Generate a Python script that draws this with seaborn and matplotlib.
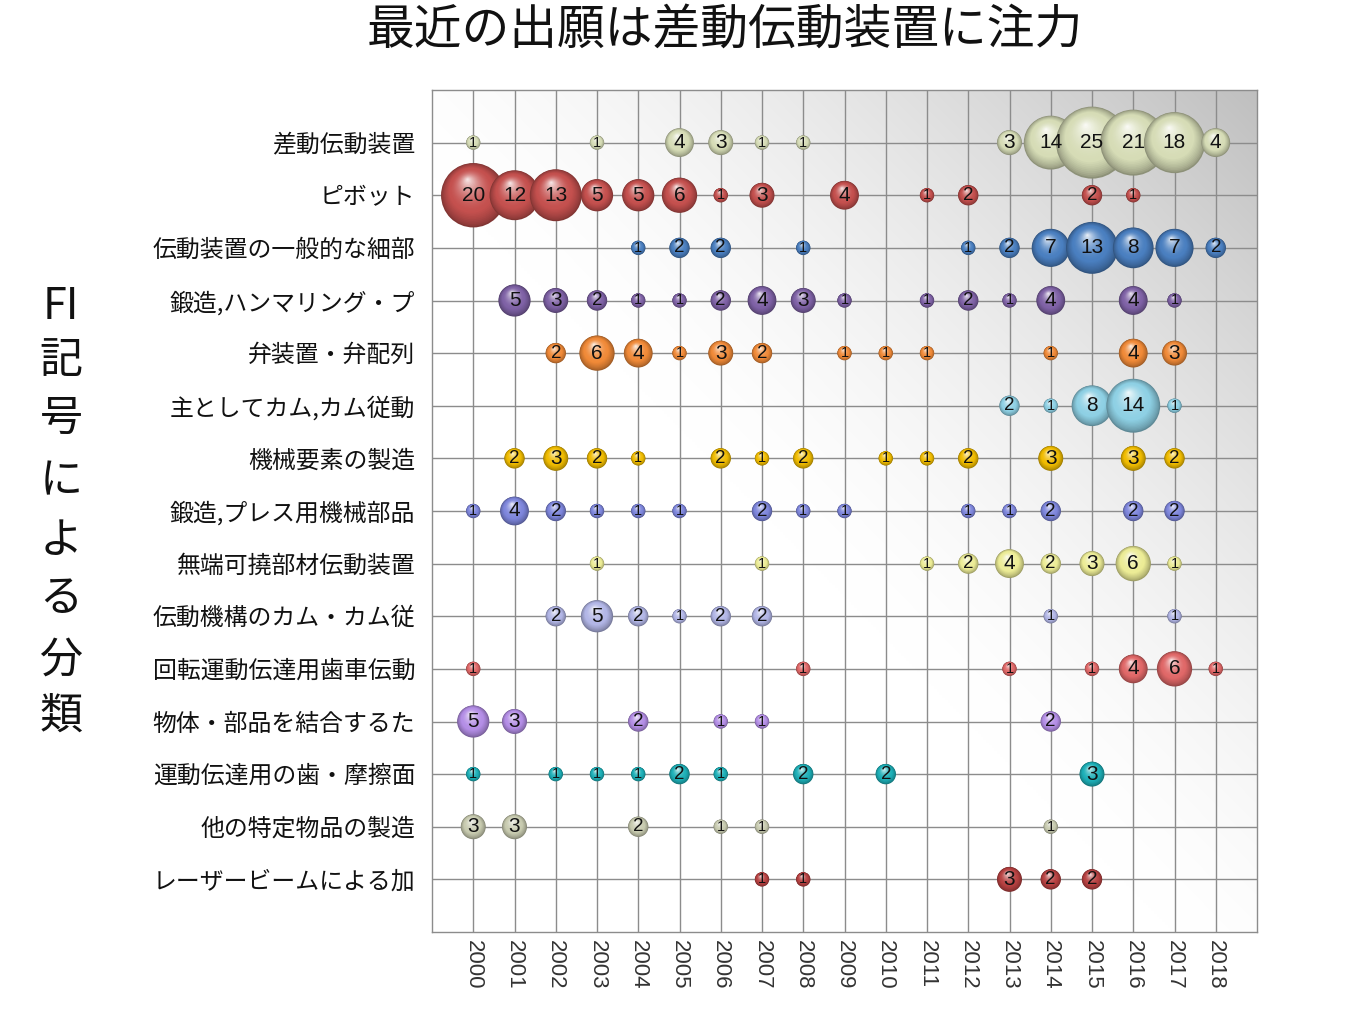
import numpy as np
import pandas as pd
import matplotlib
matplotlib.use("Agg")
import matplotlib.pyplot as plt
import seaborn as sns
from matplotlib.path import Path
from matplotlib.markers import MarkerStyle
from matplotlib.colors import to_rgb

# ---------------- data ----------------
title = "最近の出願は差動伝動装置に注力"
ylabel_chars = ["FI", "記", "号", "に", "よ", "る", "分", "類"]
years = list(range(2000, 2019))

categories = [
    "差動伝動装置",
    "ピボット",
    "伝動装置の一般的な細部",
    "鍛造,ハンマリング・プ",
    "弁装置・弁配列",
    "主としてカム,カム従動",
    "機械要素の製造",
    "鍛造,プレス用機械部品",
    "無端可撓部材伝動装置",
    "伝動機構のカム・カム従",
    "回転運動伝達用歯車伝動",
    "物体・部品を結合するた",
    "運動伝達用の歯・摩擦面",
    "他の特定物品の製造",
    "レーザービームによる加",
]

row01_years = [2000, 2003, 2005, 2006, 2007, 2008, 2013, 2014, 2015, 2016, 2017, 2018]
row01_counts = [1, 1, 4, 3, 1, 1, 3, 14, 25, 21, 18, 4]
row02_years = [2000, 2001, 2002, 2003, 2004, 2005, 2006, 2007, 2009, 2011, 2012, 2015, 2016]
row02_counts = [20, 12, 13, 5, 5, 6, 1, 3, 4, 1, 2, 2, 1]
row03_years = [2004, 2005, 2006, 2008, 2012, 2013, 2014, 2015, 2016, 2017, 2018]
row03_counts = [1, 2, 2, 1, 1, 2, 7, 13, 8, 7, 2]
row04_years = [2001, 2002, 2003, 2004, 2005, 2006, 2007, 2008, 2009, 2011, 2012, 2013, 2014, 2016, 2017]
row04_counts = [5, 3, 2, 1, 1, 2, 4, 3, 1, 1, 2, 1, 4, 4, 1]
row05_years = [2002, 2003, 2004, 2005, 2006, 2007, 2009, 2010, 2011, 2014, 2016, 2017]
row05_counts = [2, 6, 4, 1, 3, 2, 1, 1, 1, 1, 4, 3]
row06_years = [2013, 2014, 2015, 2016, 2017]
row06_counts = [2, 1, 8, 14, 1]
row07_years = [2001, 2002, 2003, 2004, 2006, 2007, 2008, 2010, 2011, 2012, 2014, 2016, 2017]
row07_counts = [2, 3, 2, 1, 2, 1, 2, 1, 1, 2, 3, 3, 2]
row08_years = [2000, 2001, 2002, 2003, 2004, 2005, 2007, 2008, 2009, 2012, 2013, 2014, 2016, 2017]
row08_counts = [1, 4, 2, 1, 1, 1, 2, 1, 1, 1, 1, 2, 2, 2]
row09_years = [2003, 2007, 2011, 2012, 2013, 2014, 2015, 2016, 2017]
row09_counts = [1, 1, 1, 2, 4, 2, 3, 6, 1]
row10_years = [2002, 2003, 2004, 2005, 2006, 2007, 2014, 2017]
row10_counts = [2, 5, 2, 1, 2, 2, 1, 1]
row11_years = [2000, 2008, 2013, 2015, 2016, 2017, 2018]
row11_counts = [1, 1, 1, 1, 4, 6, 1]
row12_years = [2000, 2001, 2004, 2006, 2007, 2014]
row12_counts = [5, 3, 2, 1, 1, 2]
row13_years = [2000, 2002, 2003, 2004, 2005, 2006, 2008, 2010, 2015]
row13_counts = [1, 1, 1, 1, 2, 1, 2, 2, 3]
row14_years = [2000, 2001, 2004, 2006, 2007, 2014]
row14_counts = [3, 3, 2, 1, 1, 1]
row15_years = [2007, 2008, 2013, 2014, 2015]
row15_counts = [1, 1, 3, 2, 2]

colors = [
    "#d6dcb6", "#c4504e", "#4a7fc0", "#7f62a6", "#f08a38",
    "#8ed0e4", "#f0bc00", "#7e86dc", "#ecec96", "#b2b6e6",
    "#e06868", "#b48ee6", "#1eb0b8", "#c8cbb0", "#b84242",
]

all_years = [row01_years, row02_years, row03_years, row04_years, row05_years,
             row06_years, row07_years, row08_years, row09_years, row10_years,
             row11_years, row12_years, row13_years, row14_years, row15_years]
all_counts = [row01_counts, row02_counts, row03_counts, row04_counts, row05_counts,
              row06_counts, row07_counts, row08_counts, row09_counts, row10_counts,
              row11_counts, row12_counts, row13_counts, row14_counts, row15_counts]

records = []
for i, (cat, ys, cs) in enumerate(zip(categories, all_years, all_counts)):
    for yv, cv in zip(ys, cs):
        records.append({"category": cat, "row": i, "year": yv, "count": cv})
df = pd.DataFrame(records)

# ---------------- style ----------------
sns.set_style("white")
plt.rcParams["font.family"] = ["Noto Sans CJK JP", "DejaVu Sans"]

W, H, DPI = 1365, 1024, 100
fig = plt.figure(figsize=(W / DPI, H / DPI), dpi=DPI)
ax = fig.add_axes([432 / W, 1 - 932 / H, (1257 - 432) / W, (932 - 90) / H])

# background gradient (white lower-left -> gray upper-right)
gx = np.linspace(0, 1, 300)
gy = np.linspace(1, 0, 300)
U, V = np.meshgrid(gx, gy)
d = (U + V) / 2
g = 1 - 0.25 * np.clip((d - 0.45) / 0.55, 0, 1) ** 1.5
bg = np.dstack([g, g, g])
ax.imshow(bg, extent=(0, 1, 0, 1), transform=ax.transAxes, aspect="auto",
          zorder=-2, interpolation="bilinear")

# sphere-like bubbles
SIZE_UNIT = 107.5  # pt^2 per count
HX, HY = -0.18, 0.5
N_LAYERS = 30


def sphere_marker(f, cx, cy):
    circ = Path.circle((cx, cy), f)
    verts = np.vstack([[[-1.0, -1.0], [1.0, 1.0]], circ.vertices])
    codes = np.concatenate([[Path.MOVETO, Path.MOVETO], circ.codes])
    return MarkerStyle(Path(verts, codes))


def shade(col, t):
    rgb = np.array(to_rgb(col))
    dark = rgb * 0.66
    if t < 0.3:
        c = dark + (rgb - dark) * (t / 0.3) ** 0.7
    else:
        s = ((t - 0.3) / 0.7) ** 1.8
        c = rgb + (1 - rgb) * s * 0.92
    return tuple(np.clip(c, 0, 1))


layers = []
for k in range(N_LAYERS):
    f = 1 - k / N_LAYERS
    t = 1 - f
    layers.append((sphere_marker(f, HX * t, HY * t),
                   {c: shade(col, t) for c, col in zip(categories, colors)}))

z = 2.0
for yr in years:
    sub = df[df["year"] == yr]
    if sub.empty:
        continue
    for marker, pal in layers:
        sns.scatterplot(data=sub, x="year", y="row", hue="category", palette=pal,
                        size="count", sizes=(SIZE_UNIT, SIZE_UNIT * 25),
                        size_norm=(1, 25), marker=marker, linewidth=0,
                        legend=False, ax=ax, zorder=z)
        z += 0.0005

for _, r in df.iterrows():
    v = int(r["count"])
    fs = 10.5 if v == 1 else (13.5 if v == 2 else 15)
    ax.text(r["year"], r["row"], str(v), ha="center", va="center", fontsize=fs,
            color="#111111", family=["Liberation Sans", "DejaVu Sans"], zorder=10)

# axes
ax.set_xlim(1999, 2019)
ax.set_ylim(len(categories), -1)
ax.set_xticks(years)
ax.set_xticklabels([str(y) for y in years], rotation=-90,
                   family=["Liberation Sans", "DejaVu Sans"], fontsize=16, color="#333333")
ax.set_yticks(range(len(categories)))
ax.set_yticklabels(categories, fontsize=17.2, color="#111111")
ax.set_xlabel("")
ax.set_ylabel("")
ax.tick_params(axis="x", length=0, pad=6)
ax.tick_params(axis="y", length=5, width=1, color="#8c8c8c", pad=7, direction="out")
ax.grid(True, color="#8c8c8c", linewidth=1.0)
ax.set_axisbelow(True)
for sp in ax.spines.values():
    sp.set_visible(True)
    sp.set_color("#8c8c8c")
    sp.set_linewidth(1.0)

fig.text(725 / W, 1 - 30 / H, title, ha="center", va="center", fontsize=34.4, color="#111111")

ylab_y = [307, 361, 419, 481, 541, 599, 661, 717]
for ch, yy in zip(ylabel_chars, ylab_y):
    fig.text(61 / W, 1 - yy / H, ch, ha="center", va="center", fontsize=31, color="#111111")

fig.savefig("out.png", dpi=DPI)
